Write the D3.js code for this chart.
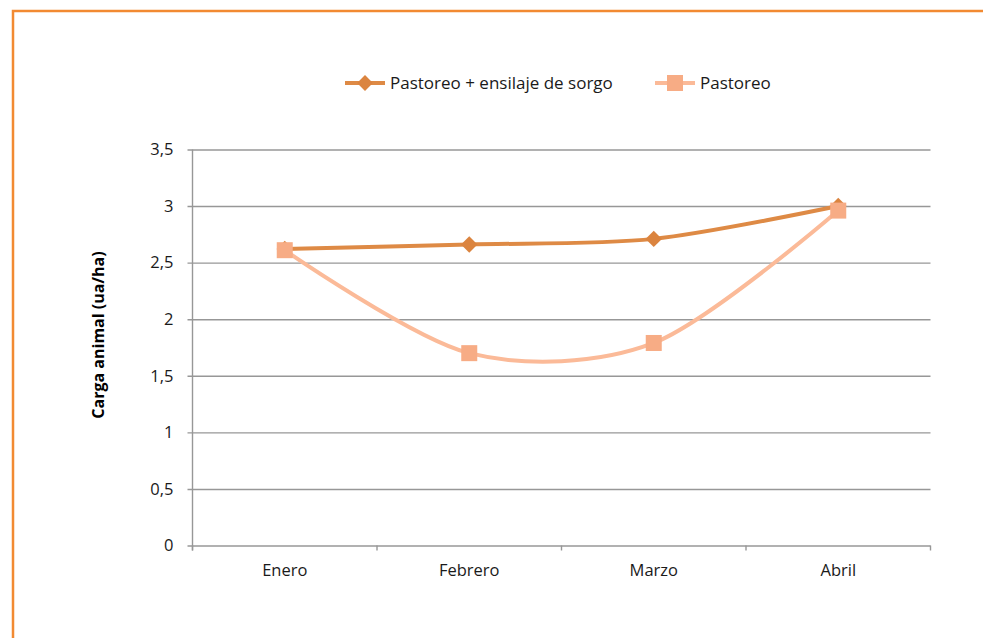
<!DOCTYPE html>
<html>
<head>
<meta charset="utf-8">
<script src="https://cdn.jsdelivr.net/npm/d3@7"></script>
<style>
  body { margin: 0; background: #fff; }
  svg { display: block; font-family: "Open Sans", sans-serif; }
</style>
</head>
<body>
<div id="chart"></div>
<script>
// data
const months = ['Enero', 'Febrero', 'Marzo', 'Abril'];
const ensilaje = [2.62, 2.66, 2.71, 3.0];
const pastoreo = [2.61, 1.70, 1.79, 2.96];
const yTicks = [0, 0.5, 1, 1.5, 2, 2.5, 3, 3.5];
const seriesNames = ['Pastoreo + ensilaje de sorgo', 'Pastoreo'];
const yTitle = 'Carga animal (ua/ha)';

const W = 983, H = 638;
const plotLeft = 192.5, plotRight = 930.5, plotTop = 149.5, plotBottom = 545.5;

const svg = d3.select('#chart').append('svg')
    .attr('width', W)
    .attr('height', H);

// orange frame (only top and left visible)
svg.append('path')
    .attr('d', `M13,${H + 5} L13,11 L${W + 5},11`)
    .attr('fill', 'none')
    .attr('stroke', '#F28A32')
    .attr('stroke-width', 2.5);

const x = d3.scaleBand().domain(months).range([plotLeft, plotRight]).padding(0);
const y = d3.scaleLinear().domain([0, 3.5]).range([plotBottom, plotTop]);

const es = d3.formatLocale({ decimal: ',', thousands: '.', grouping: [3], currency: ['', ''] });
const fmt = v => es.format('~g')(v);

// gridlines + y tick labels
const yAxis = svg.append('g')
    .attr('transform', `translate(${plotLeft - 5},0)`)
    .call(d3.axisLeft(y).tickValues(yTicks).tickFormat(fmt)
        .tickSizeInner(-(plotRight - plotLeft + 5)).tickSizeOuter(0).tickPadding(14));
yAxis.select('.domain').remove();
yAxis.selectAll('line').attr('stroke', '#979797').attr('stroke-width', 1.4);
yAxis.selectAll('text')
    .attr('font-size', 16.5)
    .attr('fill', '#1a1a1a')
    .attr('font-family', '"Open Sans", sans-serif');

// y axis line
svg.append('line')
    .attr('x1', plotLeft).attr('x2', plotLeft)
    .attr('y1', plotTop).attr('y2', plotBottom + 5)
    .attr('stroke', '#979797').attr('stroke-width', 1.4);

// x axis: ticks at band edges, labels at band centres
const edges = [x(months[0])].concat(months.map(m => x(m) + x.bandwidth()));
svg.append('g').selectAll('line')
    .data(edges)
    .enter().append('line')
    .attr('x1', d => d).attr('x2', d => d)
    .attr('y1', plotBottom).attr('y2', plotBottom + 5)
    .attr('stroke', '#979797').attr('stroke-width', 1.4);

const xAxis = svg.append('g')
    .attr('transform', `translate(0,${plotBottom})`)
    .call(d3.axisBottom(x).tickSize(0).tickPadding(19));
xAxis.select('.domain').remove();
xAxis.selectAll('text')
    .attr('font-size', 16.5)
    .attr('fill', '#1a1a1a')
    .attr('font-family', '"Open Sans", sans-serif');

// y title
svg.append('text')
    .attr('transform', 'translate(104,335) rotate(-90)')
    .attr('text-anchor', 'middle')
    .attr('font-size', 16)
    .attr('font-weight', 'bold')
    .attr('fill', '#000')
    .text(yTitle);

const cx = m => x(m) + x.bandwidth() / 2;
const line = d3.line()
    .x((d, i) => cx(months[i]))
    .y(d => y(d))
    .curve(d3.curveCardinal.tension(0.1));

const colors = { lineA: '#DE8A45', markA: '#DB843F', lineB: '#FBBA98', markB: '#F7AC85' };

// series 1 (ensilaje)
svg.append('path')
    .datum(ensilaje)
    .attr('d', line)
    .attr('fill', 'none')
    .attr('stroke', colors.lineA)
    .attr('stroke-width', 4);

svg.append('g').selectAll('path')
    .data(ensilaje)
    .enter().append('path')
    .attr('d', d3.symbol(d3.symbolDiamond2, 110))
    .attr('transform', (d, i) => `translate(${cx(months[i])},${y(d)}) scale(1.25)`)
    .attr('fill', colors.markA);

// series 2 (pastoreo)
svg.append('path')
    .datum(pastoreo)
    .attr('d', line)
    .attr('fill', 'none')
    .attr('stroke', colors.lineB)
    .attr('stroke-width', 4);

svg.append('g').selectAll('rect')
    .data(pastoreo)
    .enter().append('rect')
    .attr('x', (d, i) => cx(months[i]) - 8)
    .attr('y', d => y(d) - 8)
    .attr('width', 16)
    .attr('height', 16)
    .attr('fill', colors.markB);

// legend
const legend = svg.append('g').attr('transform', 'translate(0,83)');
const legendItems = [
    { name: seriesNames[0], x: 345, line: colors.lineA, mark: colors.markA, shape: 'diamond' },
    { name: seriesNames[1], x: 655, line: colors.lineB, mark: colors.markB, shape: 'square' }
];
const li = legend.selectAll('g').data(legendItems).enter().append('g')
    .attr('transform', d => `translate(${d.x},0)`);
li.append('line')
    .attr('x1', 0).attr('x2', 40)
    .attr('stroke', d => d.line)
    .attr('stroke-width', 4);
li.filter(d => d.shape === 'diamond').append('path')
    .attr('d', d3.symbol(d3.symbolDiamond2, 110))
    .attr('transform', 'translate(20,0) scale(1.2)')
    .attr('fill', d => d.mark);
li.filter(d => d.shape === 'square').append('rect')
    .attr('x', 12).attr('y', -8).attr('width', 16).attr('height', 16)
    .attr('fill', d => d.mark);
li.append('text')
    .attr('x', 45)
    .attr('dy', '0.35em')
    .attr('font-size', 17)
    .attr('fill', '#1a1a1a')
    .text(d => d.name);
</script>
</body>
</html>
